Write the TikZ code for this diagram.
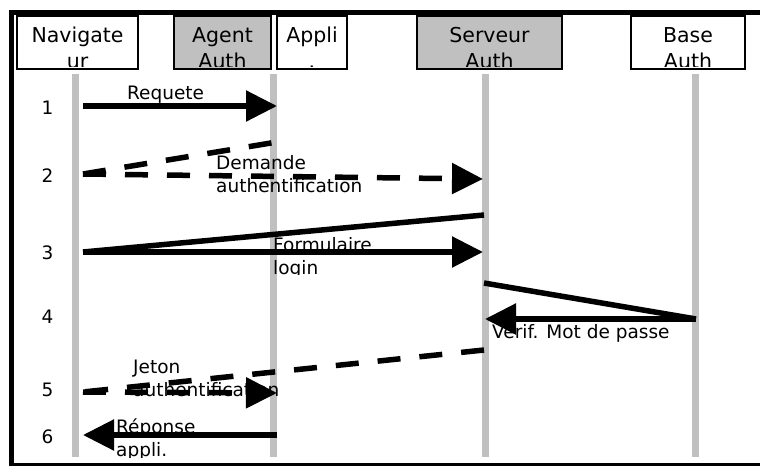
\documentclass[tikz,border=0pt]{standalone}
\usepackage{fontspec}
\setmainfont{DejaVu Sans}
\usetikzlibrary{arrows.meta}
\definecolor{hdrgray}{HTML}{C0C0C0}
\newcommand{\hdrfont}{\fontsize{20.5}{25.5}\selectfont}
\newcommand{\lblfont}{\fontsize{18.5}{23}\selectfont}
\newcommand{\twolines}[2]{\begin{tabular}[t]{@{}l@{}}#1\\#2\end{tabular}}

\begin{document}
\begin{tikzpicture}[x=1pt, y=-1pt,
  hdr/.style 2 args={draw, line width=1.5pt, inner sep=0pt, minimum height=53pt,
    path picture={\clip ([yshift=2.8pt]path picture bounding box.south west) rectangle (path picture bounding box.north east);
      \node[anchor=base, font=\hdrfont] at ([yshift=-26.5pt]path picture bounding box.north) {\begin{tabular}[t]{@{}c@{}}#1\\#2\end{tabular}};}},
  lifeline/.style={draw=hdrgray, line width=7pt},
  link/.style={line width=5.5pt},
  msg/.style={link, -{Triangle[length=31pt,width=30pt]}},
  dashline/.style={dash pattern=on 23pt off 19pt},
  lbl/.style={font=\lblfont, anchor=base west, inner sep=0pt},
  num/.style={font=\lblfont, anchor=base, inner sep=0pt}]
\useasboundingbox (0,0) rectangle (760,466);

% Frame
\draw[line width=5pt] (11.5,466) -- (11.5,12.25) -- (760,12.25);
\draw[line width=3pt] (10,464.5) -- (760,464.5);

% Headers
\node[hdr={Navigate}{ur}, minimum width=121pt] (nav) at (77.5,42.5) {};
\node[hdr={Agent}{Auth}, fill=hdrgray, minimum width=97pt] (agent) at (222.5,42.5) {};
\node[hdr={Appli}{.}, minimum width=70pt] (appli) at (312,42.5) {};
\node[hdr={Serveur}{Auth}, fill=hdrgray, minimum width=145pt] (srv) at (489.5,42.5) {};
\node[hdr={Base}{Auth}, minimum width=114pt] (base) at (688,42.5) {};

% Lifelines
\foreach \x in {75,273,485,695}
  \draw[lifeline] (\x,74) -- (\x,457);

% Step numbers
\foreach \i/\y in {1/114,2/182,3/259,4/323,5/396,6/443}
  \node[num] (num\i) at (47.5,\y) {\i};

% Labels
\node[lbl] (lreq) at (127,99) {Requete};
\node[lbl] (ldem) at (216,169) {\twolines{Demande}{authentification}};
\begin{scope}
  \clip (250,230) rectangle (420,274.5);
  \node[lbl] (lform) at (273,251) {\twolines{Formulaire}{login}};
\end{scope}
\node[lbl] (lverif) at (492,338) {Vérif. Mot de passe};
\node[lbl] (ljeton) at (133,373) {\twolines{Jeton}{authentification}};
\begin{scope}
  \clip (100,410) rectangle (250,457);
  \node[lbl] (lrep) at (116,433) {\twolines{Réponse}{appli.}};
\end{scope}

% Message end points
\coordinate (n1) at (83,106);   \coordinate (a1) at (277,106);
\coordinate (n2) at (83,174);   \coordinate (a2) at (277,142);  \coordinate (s2) at (483,179);
\coordinate (n3) at (83,252);   \coordinate (s3top) at (484,215); \coordinate (s3) at (483,252);
\coordinate (s4) at (484,283);  \coordinate (b4) at (696,319);  \coordinate (s4tip) at (485,319);
\coordinate (s5) at (484,350);  \coordinate (n5) at (83,392);   \coordinate (a5) at (277,393);
\coordinate (a6) at (277,435);  \coordinate (n6) at (83,435);

% Messages
\draw[msg] (n1) -- (a1);
\draw[link, dashline] (n2) -- (a2);
\draw[msg, dashline] (n2) -- (s2);
\draw[link] (n3) -- (s3top);
\draw[msg] (n3) -- (s3);
\draw[link] (s4) -- (b4);
\draw[msg] (b4) -- (s4tip);
\draw[link, dashline] (s5) -- (n5);
\draw[msg, dashline] (n5) -- (a5);
\draw[msg] (a6) -- (n6);
\end{tikzpicture}
\end{document}
